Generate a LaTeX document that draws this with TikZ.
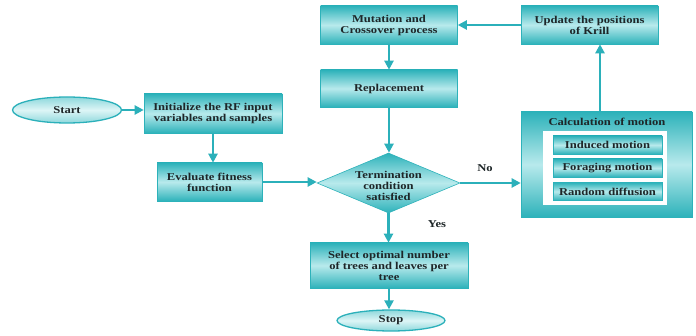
\documentclass[tikz,border=0pt]{standalone}
\usepackage{fontspec}
\setmainfont{Liberation Serif}[FakeStretch=1.2]
\usetikzlibrary{shapes.geometric,arrows.meta}
\definecolor{tealdark}{HTML}{2DB2BA}
\definecolor{teallight}{HTML}{B8EAEC}
\definecolor{tealline}{HTML}{2BB0BA}
\definecolor{ovaledge}{HTML}{8ED8DC}
\definecolor{ovalmid}{HTML}{DDF5F6}
\definecolor{txt}{HTML}{1E2628}
\begin{document}
\begin{tikzpicture}[x=1pt,y=-1pt,
  lbl/.style={font=\fontsize{10.5}{11}\selectfont\bfseries, text=txt, align=center, inner sep=0pt},
  box/.style={rectangle, draw=tealdark, line width=0.6pt, top color=tealdark, bottom color=tealdark, middle color=teallight, lbl},
  oval/.style={ellipse, draw=tealline, line width=1.3pt, top color=ovaledge, bottom color=ovaledge, middle color=ovalmid, lbl},
  arr/.style={draw=tealline, line width=2.2pt, -{Triangle[length=9pt,width=9pt]}}]
\path[fill=white] (0,0) rectangle (696,336);
% nodes
\node[oval, minimum width=109pt, minimum height=26pt] (start) at (67,110) {Start};
\node[box, minimum width=138pt, minimum height=39pt] (init) at (213,113.5) {Initialize the RF input\\variables and samples};
\node[box, minimum width=105pt, minimum height=38pt] (eval) at (209.5,182) {Evaluate fitness\\function};
\node[box, minimum width=137pt, minimum height=38pt] (mut) at (389,25) {Mutation and\\Crossover process};
\node[box, minimum width=137pt, minimum height=38pt] (upd) at (589.5,25) {Update the positions\\of Krill};
\node[box, minimum width=137pt, minimum height=37pt] (rep) at (389,88.5) {Replacement};
\node[diamond, draw=tealdark, line width=0.6pt, top color=tealdark, bottom color=tealdark, middle color=teallight, minimum width=143pt, minimum height=60pt, inner sep=0pt] (dia) at (388.5,183) {};
\node[lbl] (diatext) at (388.5,186) {Termination\\condition\\satisfied};
\node[box, minimum width=171pt, minimum height=105pt] (calc) at (606.5,164.5) {};
\node[fill=white, minimum width=124pt, minimum height=74pt, inner sep=0pt] (inner) at (605,168) {};
\node[lbl] (calctitle) at (607,122) {Calculation of motion};
\node[box, minimum width=109pt, minimum height=18pt] (ind) at (607.5,145) {Induced motion};
\node[box, minimum width=109pt, minimum height=18pt] (for) at (607.5,168) {Foraging motion};
\node[box, minimum width=109pt, minimum height=18pt] (ran) at (607.5,191.5) {Random diffusion};
\node[box, minimum width=158pt, minimum height=45pt] (sel) at (389,265.5) {Select optimal number\\of trees and leaves per\\tree};
\node[oval, minimum width=108pt, minimum height=21pt] (stop) at (391,320.5) {Stop};
\node[lbl] (yes) at (437,224) {Yes};
\node[lbl] (no) at (485,168) {No};
% connectors
\draw[arr] (start.east) -- (start.east -| init.west);
\draw[arr] (init.south) -- (init.south |- eval.north);
\draw[arr] (eval.east) -- (eval.east -| dia.west);
\draw[arr] (dia.east) -- (dia.east -| calc.west);
\draw[arr] ([xshift=-6.5pt]calc.north) -- ([xshift=10.5pt]upd.south);
\draw[arr] (upd.west) -- (mut.east);
\draw[arr] (mut.south) -- (rep.north);
\draw[arr] (rep.south) -- (rep.south |- dia.north);
\draw[arr] (dia.south) -- (dia.south |- sel.north);
\draw[arr] (sel.south) -- (sel.south |- stop.north);
\end{tikzpicture}
\end{document}
